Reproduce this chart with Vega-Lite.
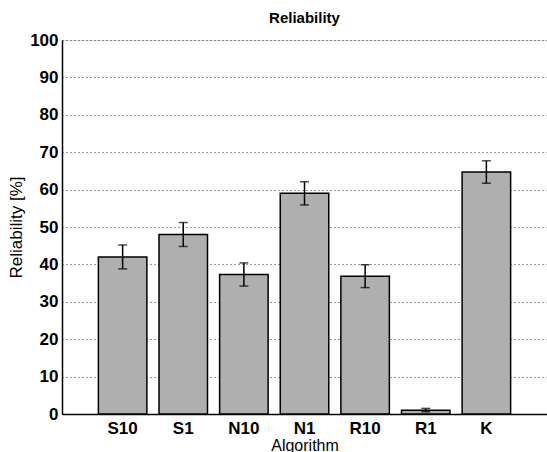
{
  "$schema": "https://vega.github.io/schema/vega-lite/v6.json",
  "width": 485,
  "height": 374,
  "autosize": "none",
  "padding": {"left": 62, "top": 40, "right": 0, "bottom": 38},
  "background": "white",
  "config": {
    "axisY": {"tickCount": 10, "labelOverlap": false, "labelFont": "Liberation Sans", "labelFontSize": 17, "labelFontWeight": "bold", "labelColor": "black", "labelPadding": 4, "ticks": false, "titleFont": "Liberation Sans", "titleFontSize": 17, "titleFontWeight": "normal", "titleColor": "black", "titlePadding": 4, "domainColor": "black", "domainWidth": 1.5, "grid": true, "gridColor": "black", "gridDash": [1, 3], "gridWidth": 1, "gridOpacity": 0.8}
  },
  "title": {"text": "Reliability", "font": "Liberation Sans", "fontSize": 15, "fontWeight": "bold", "color": "black", "offset": 5, "anchor": "middle"},
  "data": {"values": [
    {"Algorithm": "S10", "Reliability": 42, "lo": 38.8, "hi": 45.2},
    {"Algorithm": "S1", "Reliability": 48, "lo": 44.8, "hi": 51.2},
    {"Algorithm": "N10", "Reliability": 37.3, "lo": 34.2, "hi": 40.4},
    {"Algorithm": "N1", "Reliability": 59, "lo": 55.9, "hi": 62.1},
    {"Algorithm": "R10", "Reliability": 36.8, "lo": 33.8, "hi": 39.9},
    {"Algorithm": "R1", "Reliability": 1, "lo": 0.6, "hi": 1.5},
    {"Algorithm": "K", "Reliability": 64.7, "lo": 61.7, "hi": 67.7}
  ]},
  "encoding": {
    "x": {"field": "Algorithm", "type": "nominal", "sort": null,
      "scale": {"paddingInner": 0.2, "paddingOuter": 0.6},
      "axis": {"title": "Algorithm", "labelAngle": 0, "labelFont": "Liberation Sans", "labelFontSize": 17, "labelFontWeight": "bold", "labelColor": "black", "ticks": false, "labelPadding": 6, "titleFont": "Liberation Sans", "titleFontSize": 16, "titleFontWeight": "normal", "titleColor": "black", "titlePadding": 1, "domainColor": "black", "domainWidth": 1.5, "grid": false}}
  },
  "layer": [
    {
      "mark": {"type": "bar", "fill": "#afafaf", "stroke": "black", "strokeWidth": 1.5},
      "encoding": {
        "y": {"field": "Reliability", "type": "quantitative", "title": "Reliability [%]",
          "scale": {"domain": [0, 100], "nice": false}}
      }
    },
    {
      "mark": {"type": "rule", "color": "black", "strokeWidth": 1.5},
      "encoding": {"y": {"field": "lo", "type": "quantitative", "title": "Reliability [%]"}, "y2": {"field": "hi"}}
    },
    {
      "mark": {"type": "tick", "color": "black", "size": 9, "thickness": 1.5, "orient": "horizontal"},
      "encoding": {"y": {"field": "lo", "type": "quantitative", "title": "Reliability [%]"}}
    },
    {
      "mark": {"type": "tick", "color": "black", "size": 9, "thickness": 1.5, "orient": "horizontal"},
      "encoding": {"y": {"field": "hi", "type": "quantitative", "title": "Reliability [%]"}}
    }
  ]
}
